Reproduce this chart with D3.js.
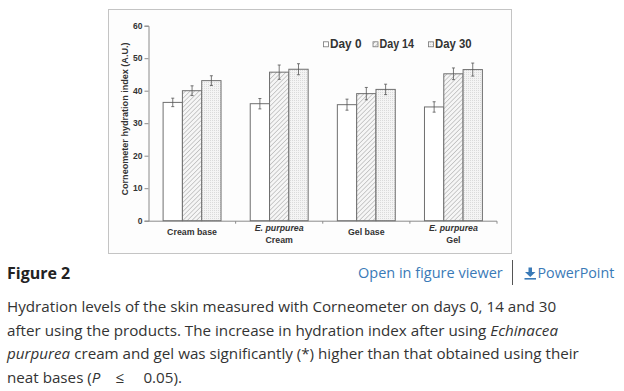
<!DOCTYPE html>
<html><head><meta charset="utf-8">
<script src="https://cdn.jsdelivr.net/npm/d3@7"></script>
<style>
html,body{margin:0;padding:0;background:#fff;}
svg{display:block;}
</style></head>
<body>
<svg id="chart" width="624" height="391"></svg>
<script>
const categories = [["Cream base"], ["E. purpurea", "Cream"], ["Gel base"], ["E. purpurea", "Gel"]];
const categoryKeys = ["Cream base", "E. purpurea Cream", "Gel base", "E. purpurea Gel"];
const series = ["Day 0", "Day 14", "Day 30"];
const day0 = [36.4, 36.0, 35.7, 35.0];
const day14 = [40.0, 45.7, 39.1, 45.2];
const day30 = [43.1, 46.6, 40.4, 46.5];
const err0 = [1.3, 1.6, 1.7, 1.6];
const err14 = [1.5, 2.2, 1.9, 1.8];
const err30 = [1.5, 1.7, 1.6, 2.0];
const yTicks = [0, 10, 20, 30, 40, 50, 60];

const values = [day0, day14, day30];
const errors = [err0, err14, err30];

const svg = d3.select("#chart");
const defs = svg.append("defs");

const hatch = defs.append("pattern").attr("id", "hatch").attr("patternUnits", "userSpaceOnUse")
  .attr("width", 3.2).attr("height", 3.2).attr("patternTransform", "rotate(45)");
hatch.append("rect").attr("width", 3.2).attr("height", 3.2).attr("fill", "#f6f6f6");
hatch.append("line").attr("x1", 0).attr("y1", 0).attr("x2", 0).attr("y2", 3.2)
  .attr("stroke", "#a0a0a0").attr("stroke-width", 1.0);
const dots = defs.append("pattern").attr("id", "dots").attr("patternUnits", "userSpaceOnUse")
  .attr("width", 2).attr("height", 2);
dots.append("rect").attr("width", 2).attr("height", 2).attr("fill", "#f4f4f4");
dots.append("rect").attr("x", 0).attr("y", 0).attr("width", 1).attr("height", 1).attr("fill", "#dadada");
const fills = ["#ffffff", "url(#hatch)", "url(#dots)"];

svg.append("rect").attr("x", 108.5).attr("y", 9.5).attr("width", 403).attr("height", 244)
  .attr("fill", "#fdfdfd").attr("stroke", "#c4c4c4").attr("stroke-width", 1);

const x0 = 148.5, x1 = 497, yTop = 25.7, yBot = 220.7;
const y = d3.scaleLinear().domain([0, 60]).range([yBot, yTop]);
const x = d3.scaleBand().domain(categoryKeys).range([x0, x1]).paddingInner(0).paddingOuter(0);
const xs = d3.scaleBand().domain(series).range([14.6, x.bandwidth() - 14.6]).padding(0);

const chartFont = "'Liberation Sans', Arial, sans-serif";

const yAxis = d3.axisLeft(y).tickValues(yTicks).tickSize(4).tickPadding(2).tickFormat(d3.format("d"));
const gy = svg.append("g").attr("transform", `translate(${x0},0)`).call(yAxis);
gy.select(".domain").attr("stroke", "#8a8a8a");
gy.selectAll(".tick line").attr("stroke", "#8a8a8a");
gy.selectAll(".tick text").attr("font-family", chartFont).attr("font-weight", "bold")
  .attr("font-size", 8.5).attr("fill", "#333");

const gx = svg.append("g").attr("transform", `translate(0,${yBot})`);
gx.append("line").attr("x1", x0).attr("x2", x1).attr("y1", 0.5).attr("y2", 0.5).attr("stroke", "#8a8a8a");
gx.selectAll(".xt").data(categoryKeys.slice(1).concat(["end"])).enter().append("line")
  .attr("x1", (d, i) => i < 3 ? x(d) : x1).attr("x2", (d, i) => i < 3 ? x(d) : x1)
  .attr("y1", 0.5).attr("y2", 3).attr("stroke", "#8a8a8a");

categories.forEach((lines, i) => {
  const cx = x(categoryKeys[i]) + x.bandwidth() / 2;
  const t = svg.append("text").attr("x", cx).attr("text-anchor", "middle")
    .attr("font-family", chartFont).attr("font-weight", "bold").attr("font-size", 8.8).attr("fill", "#333");
  if (lines.length === 1) {
    t.attr("y", 234.5).text(lines[0]);
  } else {
    t.append("tspan").attr("x", cx).attr("y", 230.5).attr("font-style", "italic").text(lines[0]);
    t.append("tspan").attr("x", cx).attr("y", 243).text(lines[1]);
  }
});

series.forEach((s, si) => {
  const g = svg.append("g");
  g.selectAll("rect").data(values[si]).enter().append("rect")
    .attr("x", (d, i) => x(categoryKeys[i]) + xs(s))
    .attr("y", d => y(d))
    .attr("width", xs.bandwidth())
    .attr("height", d => yBot - y(d))
    .attr("fill", fills[si]).attr("stroke", "#6f6f6f").attr("stroke-width", 1);
  const eg = svg.append("g").attr("stroke", "#555").attr("stroke-width", 0.8);
  values[si].forEach((v, i) => {
    const cx = x(categoryKeys[i]) + xs(s) + xs.bandwidth() / 2;
    const e = errors[si][i];
    eg.append("line").attr("x1", cx).attr("x2", cx).attr("y1", y(v + e)).attr("y2", y(v - e));
    eg.append("line").attr("x1", cx - 1.5).attr("x2", cx + 1.5).attr("y1", y(v + e)).attr("y2", y(v + e));
    eg.append("line").attr("x1", cx - 1.5).attr("x2", cx + 1.5).attr("y1", y(v - e)).attr("y2", y(v - e));
  });
});

svg.append("text").attr("transform", "translate(127.5,119) rotate(-90)").attr("text-anchor", "middle")
  .attr("font-family", chartFont).attr("font-weight", "bold").attr("font-size", 9).attr("fill", "#333")
  .attr("textLength", 153).attr("lengthAdjust", "spacingAndGlyphs")
  .text("Corneometer hydration index (A.U.)");

const legX = [323.5, 373, 428.5];
const legW = [31.5, 34.5, 36.5];
series.forEach((s, si) => {
  svg.append("rect").attr("x", legX[si]).attr("y", 41.8).attr("width", 5).attr("height", 5)
    .attr("fill", fills[si]).attr("stroke", "#777").attr("stroke-width", 0.8);
  svg.append("text").attr("x", legX[si] + 6.5).attr("y", 48).attr("font-family", chartFont)
    .attr("font-weight", "bold").attr("font-size", 12).attr("fill", "#333")
    .attr("textLength", legW[si]).attr("lengthAdjust", "spacingAndGlyphs").text(s);
});

const capFont = "'Open Sans', 'Noto Sans', sans-serif";
svg.append("text").attr("x", 7).attr("y", 279).attr("font-family", capFont).attr("font-weight", "bold")
  .attr("font-size", 16).attr("fill", "#222").text("Figure 2");
svg.append("text").attr("x", 358).attr("y", 278).attr("font-family", capFont)
  .attr("font-size", 14.5).attr("fill", "#3a7ab7").text("Open in figure viewer");
svg.append("line").attr("x1", 512.5).attr("x2", 512.5).attr("y1", 260).attr("y2", 285).attr("stroke", "#555");
const ig = svg.append("g").attr("fill", "#3a7ab7");
ig.append("rect").attr("x", 528.5).attr("y", 267.5).attr("width", 3.5).attr("height", 5);
ig.append("path").attr("d", "M525,272 L535.5,272 L530.25,277 Z");
ig.append("rect").attr("x", 524.5).attr("y", 278).attr("width", 11.5).attr("height", 1.6);
svg.append("text").attr("x", 537.5).attr("y", 278).attr("font-family", capFont)
  .attr("font-size", 14.3).attr("fill", "#3a7ab7").text("PowerPoint");

const cap = svg.append("g").attr("font-family", capFont).attr("font-size", 15.2).attr("fill", "#333");
cap.append("text").attr("x", 7).attr("y", 312)
  .text("Hydration levels of the skin measured with Corneometer on days 0, 14 and 30");
const l2 = cap.append("text").attr("x", 7).attr("y", 335.5);
l2.append("tspan").text("after using the products. The increase in hydration index after using ");
l2.append("tspan").attr("font-style", "italic").text("Echinacea");
const l3 = cap.append("text").attr("x", 7).attr("y", 359);
l3.append("tspan").attr("font-style", "italic").text("purpurea");
l3.append("tspan").text(" cream and gel was significantly (*) higher than that obtained using their");
const l4 = cap.append("text").attr("x", 7).attr("y", 382.5);
l4.append("tspan").text("neat bases (");
l4.append("tspan").attr("font-style", "italic").text("P");
l4.append("tspan").text("\u2002\u2002\u2264\u2002\u2002 0.05).");
</script>
</body></html>
